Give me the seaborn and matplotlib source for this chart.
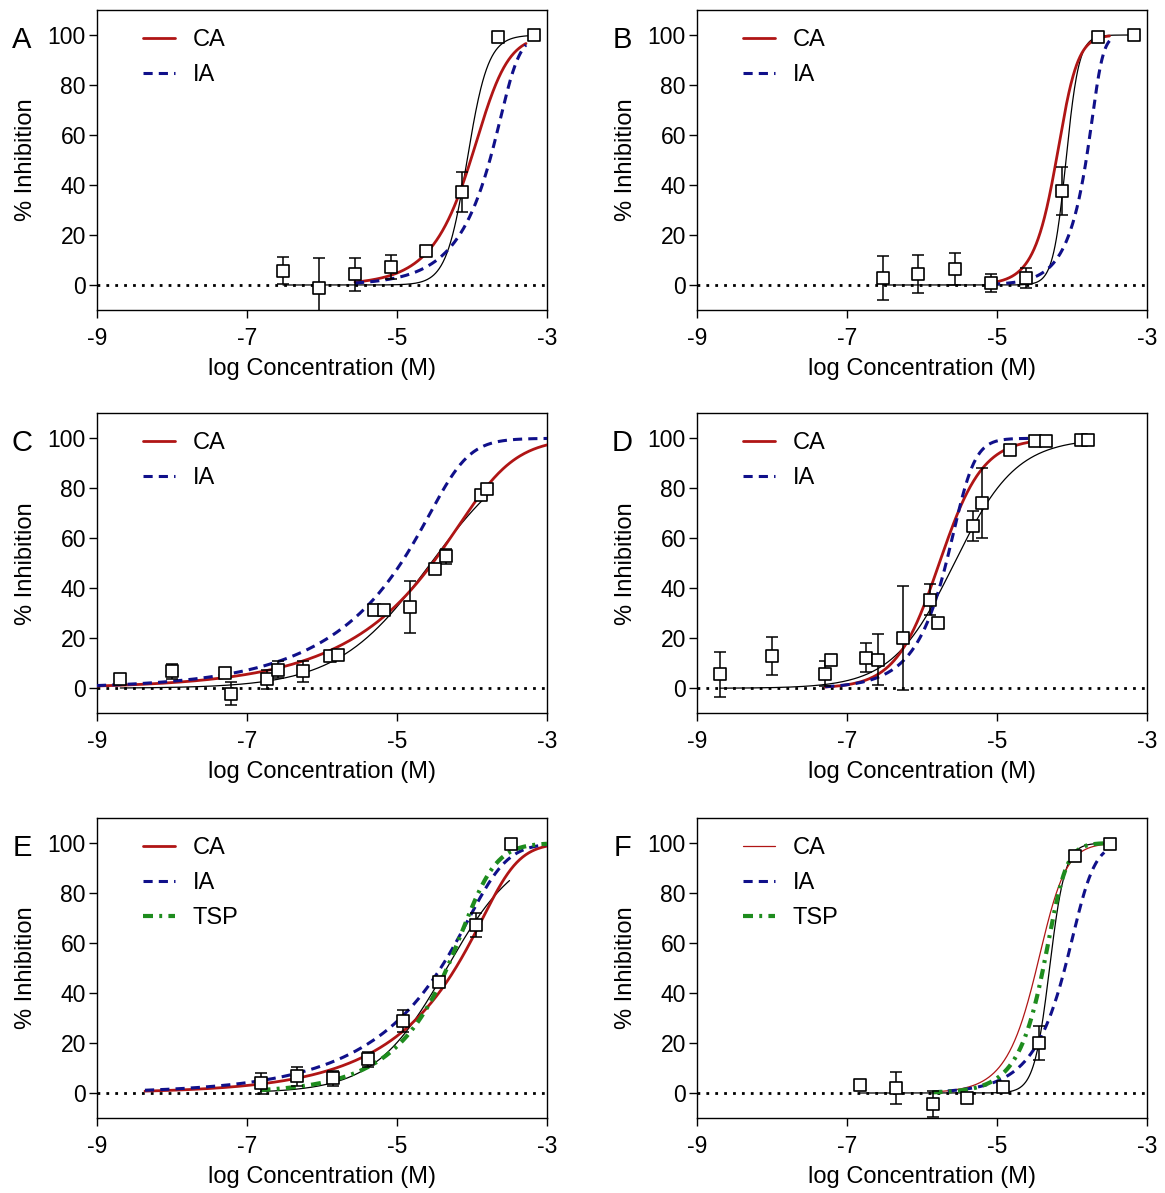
import numpy as np
import matplotlib
matplotlib.use("Agg")
import matplotlib.pyplot as plt
import seaborn as sns
from matplotlib.lines import Line2D

# ---------------- data ----------------
panel_letters = ["A", "B", "C", "D", "E", "F"]
xticks = [-9, -7, -5, -3]
yticks = [0, 20, 40, 60, 80, 100]
x_label = "log Concentration (M)"
y_label = "% Inhibition"

A_logc = [-6.52, -6.04, -5.56, -5.08, -4.61, -4.13, -3.65, -3.18]
A_inhib = [5.7, -1.3, 4.3, 7.3, 13.7, 37.3, 99.3, 99.9]
A_sem = [5.4, 12.0, 6.5, 4.7, 0.0, 8.0, 0.0, 0.0]

B_logc = [-6.52, -6.05, -5.56, -5.08, -4.61, -4.13, -3.66, -3.18]
B_inhib = [2.9, 4.4, 6.5, 0.7, 2.9, 37.6, 99.3, 99.9]
B_sem = [8.8, 7.6, 6.4, 3.6, 4.0, 9.5, 0.0, 0.0]

C_logc = [-8.69, -8.00, -7.29, -7.21, -6.74, -6.59, -6.26, -5.90,
          -5.79, -5.31, -5.18, -4.83, -4.49, -4.35, -3.88, -3.80]
C_inhib = [3.9, 6.9, 6.3, -2.1, 3.6, 7.5, 6.8, 12.9,
           13.5, 31.5, 31.5, 32.4, 47.6, 52.9, 77.5, 79.6]
C_sem = [1.5, 3.0, 0.0, 4.5, 3.7, 3.5, 4.2, 0.0,
         0.0, 0.0, 0.0, 10.4, 0.0, 3.0, 0.0, 0.0]

D_logc = [-8.69, -8.00, -7.29, -7.21, -6.75, -6.59, -6.26, -5.90,
          -5.79, -5.32, -5.20, -4.83, -4.50, -4.35, -3.88, -3.79]
D_inhib = [5.6, 12.9, 5.9, 11.5, 12.3, 11.5, 20.1, 35.5,
           26.1, 64.8, 74.1, 95.5, 98.8, 98.8, 99.2, 99.2]
D_sem = [8.9, 7.5, 5.0, 0.0, 5.9, 10.2, 20.8, 6.2,
         0.0, 6.0, 14.0, 0.0, 0.0, 0.0, 0.0, 0.0]

E_logc = [-6.82, -6.34, -5.86, -5.39, -4.92, -4.44, -3.95, -3.48]
E_inhib = [4.0, 6.7, 6.0, 13.6, 28.9, 44.3, 67.3, 99.6]
E_sem = [4.2, 3.9, 3.0, 3.0, 4.4, 1.5, 4.7, 0.0]

F_logc = [-6.83, -6.35, -5.86, -5.40, -4.92, -4.44, -3.96, -3.49]
F_inhib = [3.3, 2.0, -4.4, -2.0, 2.3, 20.0, 94.9, 99.6]
F_sem = [0.0, 6.3, 5.3, 1.0, 0.0, 6.7, 1.0, 0.0]

# curve parameters:
# [logEC50-like midpoint, Hill slope, asymmetry, log c from, log c to]
A_fit = [-4.065, 3.1, 1.0, -6.52, -3.18]
A_CA = [-3.80, 2.2, 0.5, -5.56, -3.28]
A_IA = [-3.468, 4.0, 0.25, -5.56, -3.28]

B_fit = [-4.08, 5.0, 1.0, -6.52, -3.18]
B_CA = [-4.115, 3.55, 0.6, -5.08, -3.50]
B_IA = [-3.643, 7.0, 0.25, -5.08, -3.50]

C_fit = [-4.55, 0.7, 1.0, -8.69, -3.80]
C_CA = [-3.79, 1.3, 0.3, -9.0, -3.0]
C_IA = [-4.22, 2.05, 0.2, -9.0, -3.0]

D_fit = [-5.57, 1.05, 1.0, -8.69, -3.79]
D_CA = [-5.77, 1.5, 1.0, -7.29, -4.45]
D_IA = [-5.445, 3.4, 0.35, -7.29, -4.50]

E_fit = [-4.336, 0.9, 1.0, -6.82, -3.50]
E_CA = [-3.54, 2.2, 0.2, -8.36, -3.0]
E_IA = [-3.707, 2.1, 0.2, -8.36, -3.0]
E_TSP = [-3.897, 2.2, 0.3, -6.82, -3.0]

F_fit = [-4.299, 4.2, 1.0, -6.83, -3.49]
F_CA = [-4.342, 2.6, 0.6, -5.86, -3.57]
F_IA = [-3.853, 3.3, 0.35, -5.86, -3.57]
F_TSP = [-4.212, 3.9, 0.4, -5.86, -3.57]

# ---------------- styling ----------------
sns.set_style("ticks")
plt.rcParams["font.family"] = ["Liberation Sans", "DejaVu Sans"]
plt.rcParams["axes.unicode_minus"] = False
plt.rcParams["text.color"] = "black"
plt.rcParams["axes.labelcolor"] = "black"
plt.rcParams["xtick.color"] = "black"
plt.rcParams["ytick.color"] = "black"
plt.rcParams["xtick.labelcolor"] = "black"
plt.rcParams["ytick.labelcolor"] = "black"

CA_COLOR = "#b01515"
IA_COLOR = "#10108a"
TSP_COLOR = "#1e8c1e"
IA_DASH = (0, (3.0, 2.0))
TSP_DASH = (0, (2.4, 1.5, 0.7, 1.5))
DOT = (0, (1, 2.2))


def response(x, p):
    c, h, s = p[0], p[1], p[2]
    return 100.0 / (1.0 + 10.0 ** ((c - x) * h)) ** s


def draw_curve(ax, p, **kw):
    xs = np.linspace(p[3], p[4], 400)
    ys = response(xs, p)
    sns.lineplot(x=xs, y=ys, ax=ax, sort=False, estimator=None, legend=False, **kw)


panels = [
    dict(x=A_logc, y=A_inhib, e=A_sem, fit=A_fit, ca=A_CA, ia=A_IA, tsp=None, ca_lw=2.0),
    dict(x=B_logc, y=B_inhib, e=B_sem, fit=B_fit, ca=B_CA, ia=B_IA, tsp=None, ca_lw=2.0),
    dict(x=C_logc, y=C_inhib, e=C_sem, fit=C_fit, ca=C_CA, ia=C_IA, tsp=None, ca_lw=2.0),
    dict(x=D_logc, y=D_inhib, e=D_sem, fit=D_fit, ca=D_CA, ia=D_IA, tsp=None, ca_lw=2.0),
    dict(x=E_logc, y=E_inhib, e=E_sem, fit=E_fit, ca=E_CA, ia=E_IA, tsp=E_TSP, ca_lw=2.0),
    dict(x=F_logc, y=F_inhib, e=F_sem, fit=F_fit, ca=F_CA, ia=F_IA, tsp=F_TSP, ca_lw=0.9),
]

fig = plt.figure(figsize=(11.65, 11.93), dpi=100)
lefts = [97 / 1165, 697 / 1165]
tops_px = [10, 413.3, 818]
aw, ah = 450 / 1165, 300 / 1193

for i, pdata in enumerate(panels):
    col, row = i % 2, i // 2
    bottom = 1 - (tops_px[row] + 300) / 1193
    ax = fig.add_axes([lefts[col], bottom, aw, ah])
    ax.set_xlim(-9, -3)
    ax.set_ylim(-10, 110)

    ax.axhline(0, color="black", lw=2.0, linestyle=DOT, zorder=1)

    draw_curve(ax, pdata["fit"], color="black", lw=0.9, zorder=2)
    draw_curve(ax, pdata["ca"], color=CA_COLOR, lw=pdata["ca_lw"], zorder=3)
    draw_curve(ax, pdata["ia"], color=IA_COLOR, lw=2.2, linestyle=IA_DASH, zorder=3)
    if pdata["tsp"] is not None:
        draw_curve(ax, pdata["tsp"], color=TSP_COLOR, lw=3.0, linestyle=TSP_DASH, zorder=3)

    xs = np.array(pdata["x"])
    ys = np.array(pdata["y"])
    es = np.array(pdata["e"])
    m = es > 0
    ax.errorbar(xs[m], ys[m], yerr=es[m], fmt="none", ecolor="black",
                elinewidth=1.1, capsize=4.5, capthick=1.1, zorder=4)
    sns.scatterplot(x=xs, y=ys, ax=ax, marker="s", s=80, color="white",
                    edgecolor="black", linewidth=1.2, zorder=6, legend=False)

    ax.set_xticks(xticks)
    ax.set_yticks(yticks)
    ax.tick_params(axis="both", direction="out", length=6, width=1.0,
                   labelsize=16.5, color="black", labelcolor="black")
    ax.tick_params(axis="y", pad=2)
    ax.tick_params(axis="x", pad=6)
    for sp in ax.spines.values():
        sp.set_visible(True)
        sp.set_color("black")
        sp.set_linewidth(1.0)
    ax.set_xlabel(x_label, fontsize=17, labelpad=6, color="black")
    ax.set_ylabel(y_label, fontsize=17, labelpad=8, color="black")

    handles = [Line2D([], [], color=CA_COLOR, lw=pdata["ca_lw"]),
               Line2D([], [], color=IA_COLOR, lw=2.2, linestyle=IA_DASH)]
    labels = ["CA", "IA"]
    if pdata["tsp"] is not None:
        handles.append(Line2D([], [], color=TSP_COLOR, lw=3.0, linestyle=TSP_DASH))
        labels.append("TSP")
    leg = ax.legend(handles, labels, loc="upper left", bbox_to_anchor=(0.102, 0.936),
                    frameon=False, fontsize=17, handlelength=1.35, handletextpad=0.75,
                    labelspacing=0.55, borderaxespad=0, borderpad=0)
    for t in leg.get_texts():
        t.set_color("black")

    fig.text((22 + 600 * col) / 1165, 1 - (tops_px[row] + 30) / 1193,
             panel_letters[i], fontsize=21, ha="center", va="center", color="black")

fig.savefig("out.png", dpi=100)
